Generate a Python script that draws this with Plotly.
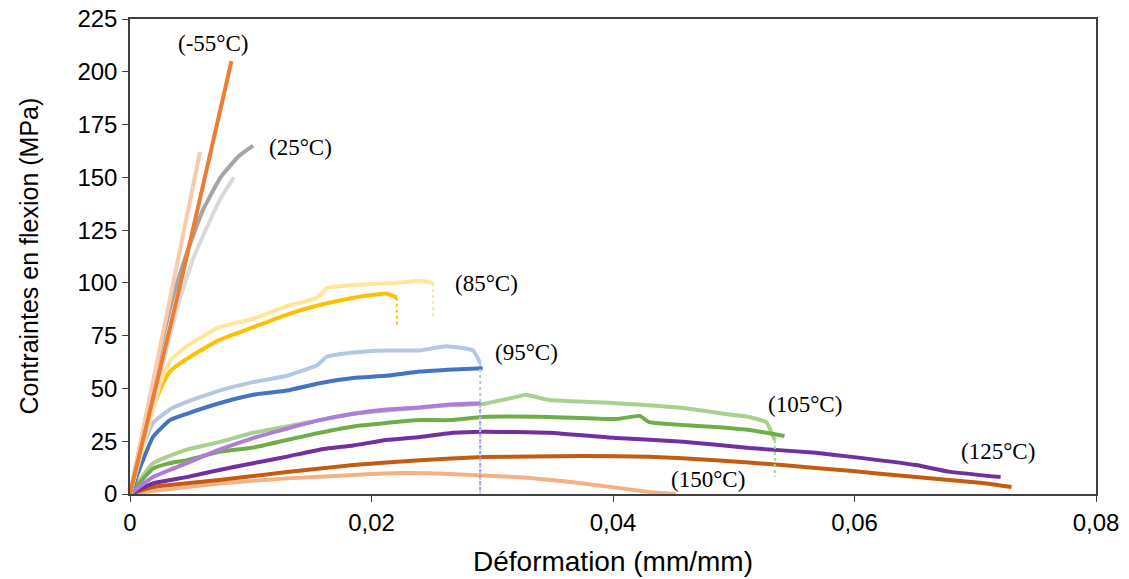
import plotly.graph_objects as go

# ---- data (strain mm/mm, stress MPa) ----
m55_x = [0, 0.0042, 0.0084]
m55_y = [0, 100, 205]

peach_x = [0, 0.0058]
peach_y = [0, 162]

gray_x = [0, 0.002, 0.0035, 0.0047, 0.006, 0.0075, 0.009, 0.0102]
gray_y = [0, 55, 92, 114, 134, 150, 160, 165]

lgray_x = [0, 0.002, 0.004, 0.0052, 0.0065, 0.0075, 0.0086]
lgray_y = [0, 45, 90, 111, 128, 140, 150]

lyellow_x = [0, 0.0012, 0.002, 0.0025, 0.0033, 0.0047, 0.0074, 0.0102, 0.013, 0.0155, 0.0163, 0.0185, 0.0221, 0.024, 0.0251]
lyellow_y = [0, 25, 42, 52.5, 63, 70, 79, 83, 89, 93, 97.5, 99, 100, 101, 100]
lyellow_drop = [100, 84]

gold_x = [0, 0.0012, 0.002, 0.0027, 0.0033, 0.0047, 0.0074, 0.0102, 0.013, 0.0157, 0.0185, 0.0212, 0.0221]
gold_y = [0, 25, 42, 52, 58, 64, 73, 79, 85, 89.5, 93, 95, 93]
gold_drop = [93, 80]

lblue_x = [0, 0.0008, 0.0019, 0.0033, 0.0047, 0.0074, 0.0102, 0.013, 0.0155, 0.0163, 0.0185, 0.0212, 0.024, 0.0262, 0.0284, 0.029]
lblue_y = [0, 18, 33.6, 40, 43.6, 49, 53, 56, 61, 65, 67, 68, 68, 70, 68, 62]
lblue_drop = [62, 0]

blue_x = [0, 0.001, 0.0019, 0.0033, 0.0047, 0.0074, 0.0102, 0.013, 0.0157, 0.0185, 0.0212, 0.024, 0.0268, 0.0292]
blue_y = [0, 15, 27, 35, 38, 43, 47, 49, 52.5, 55, 56, 58, 59, 59.6]

lgreen_x = [0, 0.0019, 0.0047, 0.0074, 0.0102, 0.013, 0.0157, 0.0185, 0.0265, 0.0292, 0.032, 0.0328, 0.0347, 0.0403, 0.0458, 0.05, 0.0513, 0.0527, 0.0534]
lgreen_y = [0, 14.5, 21, 24.6, 29, 32, 35, 38, 42, 42.6, 46, 47, 44.5, 43, 40.7, 37.4, 36.5, 34, 25.6]
lgreen_drop = [25.6, 8]

green_x = [0, 0.0019, 0.0033, 0.0047, 0.0074, 0.0102, 0.013, 0.0157, 0.0185, 0.0212, 0.024, 0.0265, 0.0292, 0.0347, 0.0403, 0.0422, 0.043, 0.0485, 0.0513, 0.0542]
green_y = [0, 12, 14.6, 16, 20, 22, 25.6, 29, 32, 33.6, 35, 35, 36.5, 36.5, 35.5, 37, 34, 31.7, 30.3, 27.5]

lpurple_x = [0, 0.0019, 0.0047, 0.0074, 0.0102, 0.013, 0.0157, 0.0185, 0.0212, 0.024, 0.0268, 0.029]
lpurple_y = [0, 8, 14.6, 21, 26.5, 31, 35, 38, 40, 41, 42.5, 43]
lpurple_drop = [43, 0]

dpurple_x = [0, 0.0019, 0.0047, 0.0074, 0.0102, 0.013, 0.0157, 0.0185, 0.0212, 0.024, 0.0268, 0.0292, 0.0347, 0.0403, 0.0458, 0.0513, 0.0568, 0.0596, 0.0651, 0.0678, 0.0721]
dpurple_y = [0, 5, 8, 11.4, 14.6, 17.7, 21, 23, 25.6, 27, 29, 29.5, 29, 26.5, 24.8, 21.8, 19.5, 17.7, 13.7, 10.6, 8]

dorange_x = [0, 0.0019, 0.0074, 0.013, 0.0185, 0.024, 0.0292, 0.0375, 0.043, 0.0485, 0.054, 0.0596, 0.0651, 0.0706, 0.073]
dorange_y = [0, 3.3, 6.6, 10.4, 13.7, 16, 17.5, 18, 17.7, 16, 13.7, 11, 8, 5.2, 3.3]

salmon_x = [0, 0.0019, 0.0074, 0.013, 0.0185, 0.0226, 0.0265, 0.032, 0.0375, 0.043, 0.0452]
salmon_y = [0, 1.4, 5, 7.4, 9, 9.9, 9.5, 8, 5, 1, 0]

labels = ["(-55°C)", "(25°C)", "(85°C)", "(95°C)", "(105°C)", "(125°C)", "(150°C)"]
label_x = [0.0069, 0.0141, 0.0295, 0.0328, 0.0559, 0.0719, 0.0479]
label_y = [213.6, 163.9, 99.5, 66.8, 42.6, 19.9, 7.1]

x_ticks = [0, 0.02, 0.04, 0.06, 0.08]
x_ticktext = ["0", "0,02", "0,04", "0,06", "0,08"]
y_ticks = [0, 25, 50, 75, 100, 125, 150, 175, 200, 225]

series = [
    (salmon_x, salmon_y, "#F4B183", None),
    (dorange_x, dorange_y, "#C55A11", None),
    (dpurple_x, dpurple_y, "#7030A0", None),
    (lgreen_x, lgreen_y, "#A9D18E", lgreen_drop),
    (green_x, green_y, "#70AD47", None),
    (lpurple_x, lpurple_y, "#B07CDC", lpurple_drop),
    (blue_x, blue_y, "#4472C4", None),
    (lblue_x, lblue_y, "#B4C7E7", lblue_drop),
    (gold_x, gold_y, "#FFC000", gold_drop),
    (lyellow_x, lyellow_y, "#FFE699", lyellow_drop),
    (lgray_x, lgray_y, "#D9D9D9", None),
    (gray_x, gray_y, "#A5A5A5", None),
    (peach_x, peach_y, "#F8CBAD", None),
    (m55_x, m55_y, "#ED7D31", None),
]

fig = go.Figure()
for xs, ys, col, drop in series:
    fig.add_trace(go.Scatter(x=xs, y=ys, mode="lines",
                             line=dict(color=col, width=4, shape="spline", smoothing=0.4),
                             showlegend=False, hoverinfo="skip"))
    if drop is not None:
        fig.add_trace(go.Scatter(x=[xs[-1], xs[-1]], y=drop, mode="lines",
                                 line=dict(color=col, width=2, dash="dot"),
                                 showlegend=False, hoverinfo="skip"))

for t, lx, ly in zip(labels, label_x, label_y):
    fig.add_annotation(x=lx, y=ly, text=t, showarrow=False,
                       font=dict(family="Liberation Serif", size=23, color="black"))

fig.add_annotation(xref="paper", yref="paper", x=0.5, y=0, yshift=-67, yanchor="middle", xanchor="center",
                   text="Déformation (mm/mm)",
                   showarrow=False, font=dict(family="Liberation Sans", size=28, color="black"))
fig.add_annotation(xref="paper", yref="paper", x=0, xshift=-102, y=0.5, xanchor="center", yanchor="middle",
                   text="Contraintes en flexion (MPa)",
                   textangle=-90, showarrow=False, font=dict(family="Liberation Sans", size=25, color="black"))

axis_common = dict(showgrid=False, zeroline=False, showline=True, linecolor="#404040", linewidth=1.5,
                   mirror=True, ticks="outside", ticklen=6, tickcolor="#404040", automargin=False,
                   tickfont=dict(family="Liberation Sans", size=24, color="black"))

fig.update_xaxes(range=[0, 0.08], tickvals=x_ticks, ticktext=x_ticktext, **axis_common)
fig.update_yaxes(range=[0, 225], tickvals=y_ticks, **axis_common)

fig.update_layout(width=1129, height=579, margin=dict(l=130, r=33, t=19, b=85),
                  plot_bgcolor="white", paper_bgcolor="white")

fig.write_html("out.html", config={"displayModeBar": False},
               post_script="document.body.style.margin='0';document.body.style.overflow='hidden';")
